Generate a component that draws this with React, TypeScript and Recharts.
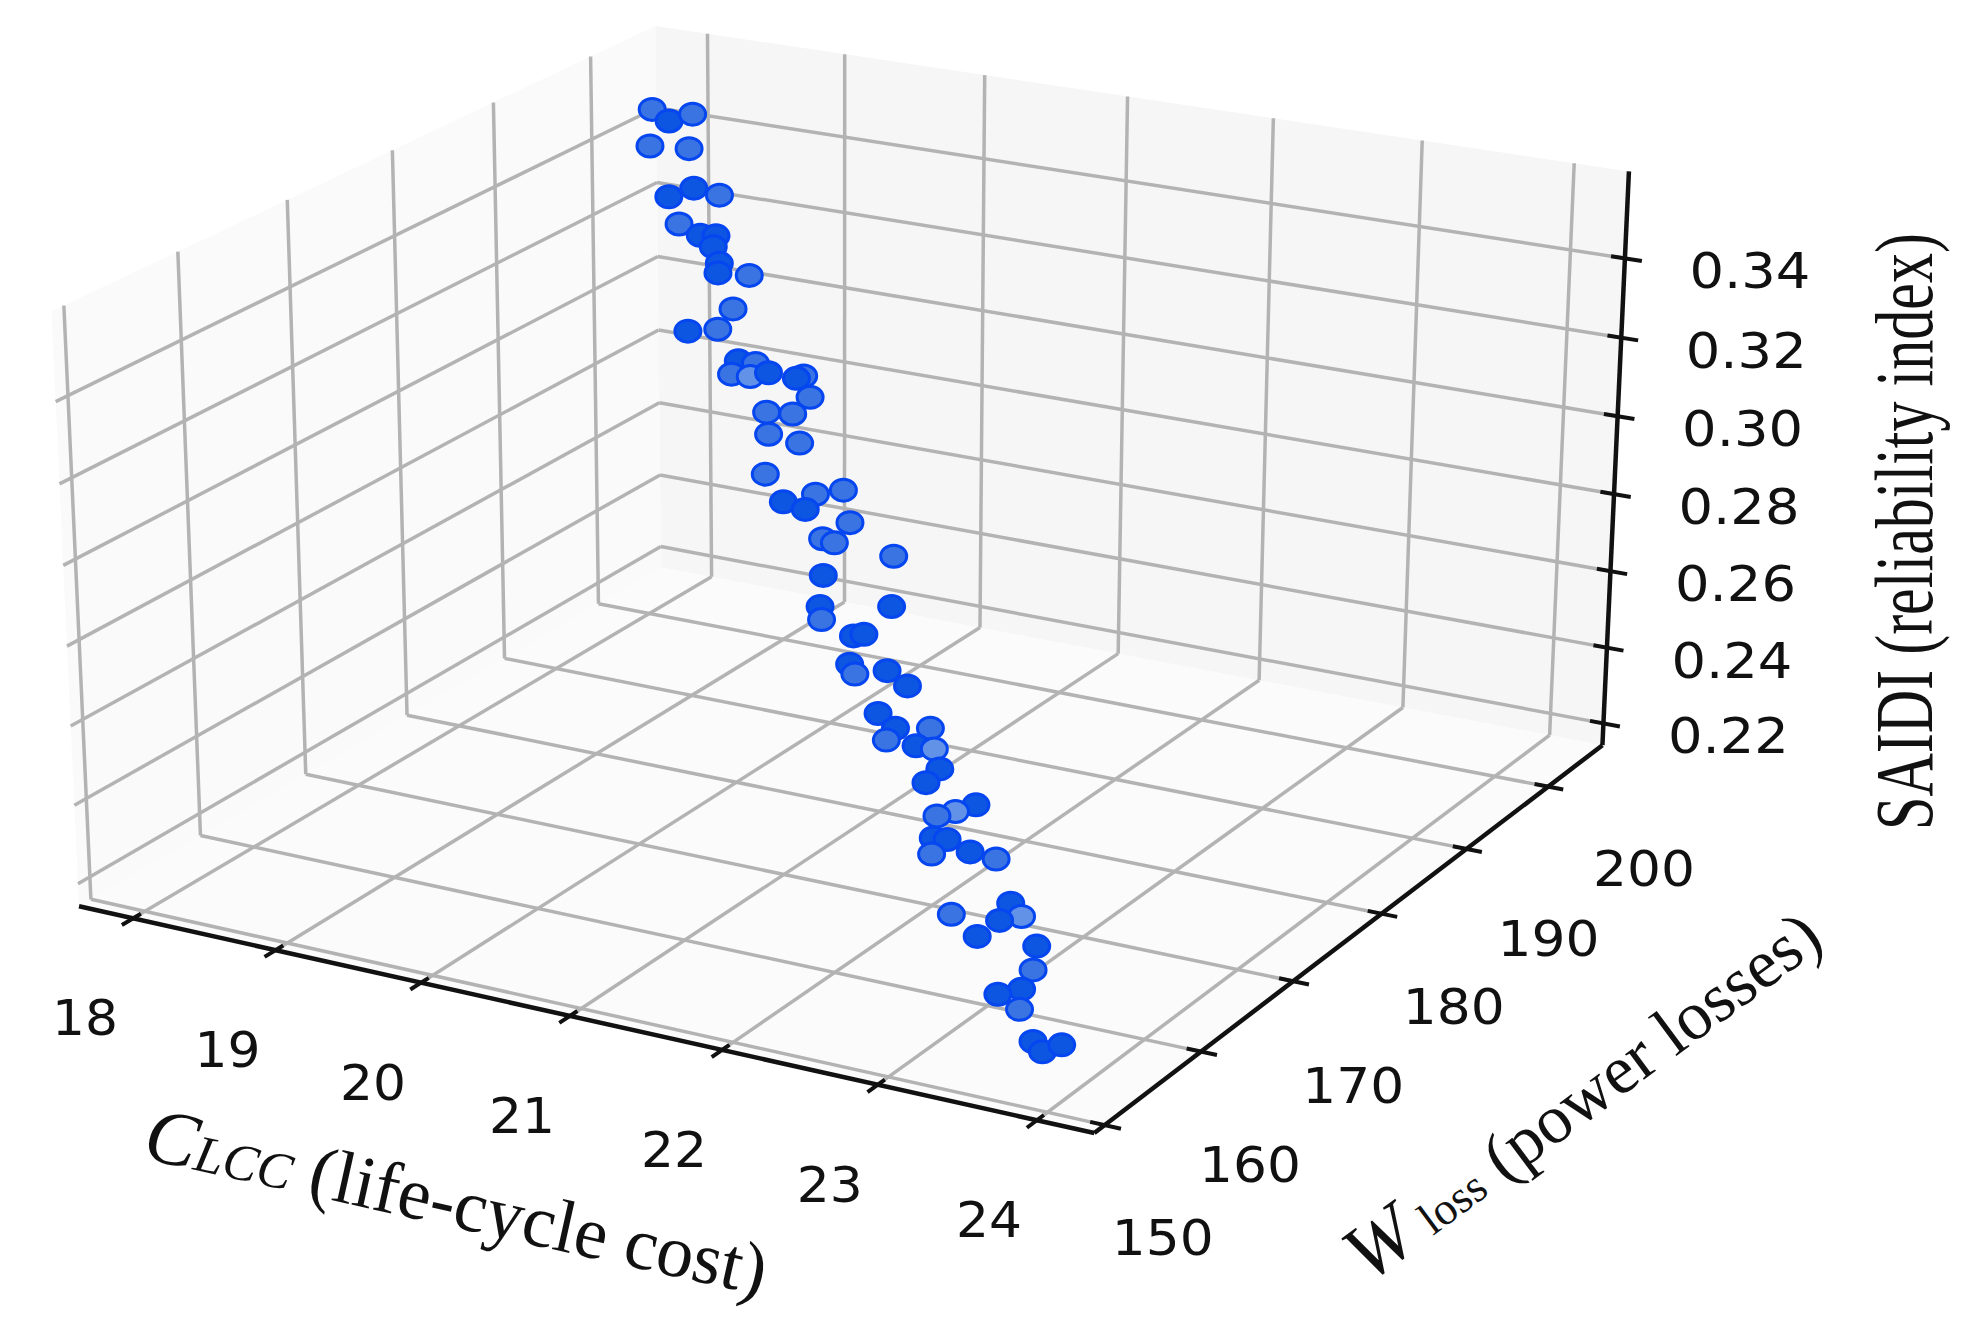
import React from 'react';
import { Scatter, ScatterChart, XAxis, YAxis } from 'recharts';

const W = 1971;
const H = 1335;

const costTicks = [18, 19, 20, 21, 22, 23, 24];
const lossTicks = [150, 160, 170, 180, 190, 200];
const saidiTicks = [0.22, 0.24, 0.26, 0.28, 0.3, 0.32, 0.34];
const costLim = [17.615, 24.355];
const lossLim = [148.94, 206.88];
const saidiLim = [0.2142, 0.3617];

// Pareto points
const cost = [
  18.41, 18.6, 18.7, 18.53, 18.81, 18.8, 18.91, 19.16, 18.94, 19.09, 19.27, 19.25, 19.36, 19.35, 19.57, 19.59, 19.34, 19.55, 19.76, 19.88, 19.78, 19.91,
  19.97, 20.28, 20.23, 20.39, 20.09, 20.27, 20.17, 20.45, 20.28, 20.47, 20.69, 20.62, 20.88, 20.99, 20.87, 20.95, 21.35, 20.94, 21.53, 21.05, 21.06, 21.34, 21.41,
  21.38, 21.48, 21.63, 21.83, 21.7, 21.88, 21.82, 22.11, 22.08, 22.2, 22.3, 22.21, 22.6, 22.53, 22.41, 22.45, 22.54, 22.44, 22.69, 22.92, 23.14, 23.21, 23.07,
  22.76, 22.99, 23.37, 23.41, 23.4, 23.25, 23.45, 23.66, 23.72, 23.84,
];
const loss = [
  195, 194, 195, 193, 193, 191, 192, 191, 190, 190, 189, 189, 188, 188, 188, 186, 185, 185, 184, 184, 183, 183, 184, 183, 183, 182, 182, 182, 181, 180, 179, 178, 178,
  178, 178, 177, 176, 176, 176, 175, 173, 173, 173, 172, 172, 171, 170, 171, 170, 169, 168, 168, 168, 167, 167, 166, 166, 165, 164, 164, 163, 163, 163, 163, 162, 160, 160, 160,
  160, 159, 159, 158, 157, 157, 156, 154, 154, 154,
];
const saidi = [
  0.3583, 0.3576, 0.3587, 0.352, 0.3529, 0.343, 0.3446, 0.3455, 0.3381, 0.3361, 0.3383, 0.3354, 0.3331, 0.3306, 0.3313, 0.3255, 0.3196, 0.3214, 0.316,
  0.3161, 0.3141, 0.3143, 0.3143, 0.3168, 0.3159, 0.3135, 0.3078, 0.3085, 0.3041, 0.3051, 0.2975, 0.2932, 0.2966, 0.2923, 0.2989, 0.2929, 0.2895, 0.289, 0.2884,
  0.2822, 0.2815, 0.2781, 0.2749, 0.2743, 0.2752, 0.269, 0.2688, 0.2692, 0.2684, 0.2621, 0.2613, 0.2579, 0.263, 0.26, 0.2601, 0.2575, 0.2534, 0.2525, 0.2519,
  0.2499, 0.2464, 0.2467, 0.2423, 0.2448, 0.2465, 0.2407, 0.238, 0.2359, 0.2349, 0.233, 0.2337, 0.2299, 0.2268, 0.2243, 0.224, 0.2214, 0.2194, 0.2221,
];

// points that show paler through the depth shading
const paleDots = [0, 2, 3, 4, 7, 8, 14, 15, 17, 19, 20, 23, 25, 26, 27, 28, 29, 30, 32, 34, 35, 36, 37, 38, 42, 46, 51, 52, 59, 62, 64, 68, 71, 74];
const palestDots = [21, 54, 58, 66];

// homogeneous camera of the 3d box, fitted to the grid crossings
const camera = [
  940.54495, 662.26896, -29.2976, 80.314359,
  145.84442, -273.50343, -604.65835, 913.89856,
  -0.072342736, 0.11787605, -0.034966461,
];

const norm = (t: number, a: number, b: number) => (t - a) / (b - a);

const project = (c: number, l: number, s: number) => {
  const u = norm(c, 17.7, 24.45);
  const v = norm(l, 148, 206);
  const w = norm(s, 0.2145, 0.3613);
  const d = camera[8] * u + camera[9] * v + camera[10] * w + 1;
  return {
    x: (camera[0] * u + camera[1] * v + camera[2] * w + camera[3]) / d,
    y: (camera[4] * u + camera[5] * v + camera[6] * w + camera[7]) / d,
  };
};

const [c0, c1] = costLim;
const [l0, l1] = lossLim;
const [s0, s1] = saidiLim;

const GRID = '#b3b3b3';
const INK = '#111111';
const TICK_FONT = 'DejaVu Sans';
const TITLE_FONT = 'Liberation Serif';

const seg = (a: { x: number; y: number }, b: { x: number; y: number }) => [a, b];

const gridSegments = [
  ...costTicks.map((t) => seg(project(t, l0, s0), project(t, l1, s0))),
  ...lossTicks.map((t) => seg(project(c0, t, s0), project(c1, t, s0))),
  ...lossTicks.map((t) => seg(project(c0, t, s0), project(c0, t, s1))),
  ...saidiTicks.map((t) => seg(project(c0, l0, t), project(c0, l1, t))),
  ...costTicks.map((t) => seg(project(t, l1, s0), project(t, l1, s1))),
  ...saidiTicks.map((t) => seg(project(c0, l1, t), project(c1, l1, t))),
];

const axisSegments = [
  seg(project(c0, l0, s0), project(c1, l0, s0)),
  seg(project(c1, l0, s0), project(c1, l1, s0)),
  seg(project(c1, l1, s0), project(c1, l1, s1)),
];

const tickSegments = [
  ...costTicks.map((t) => seg(project(t, l0 - 1, s0), project(t, l0 + 0.7, s0))),
  ...lossTicks.map((t) => seg(project(c1 - 0.09, t, s0), project(c1 + 0.1, t, s0))),
  ...saidiTicks.map((t) => seg(project(c1 - 0.09, l1, t), project(c1 + 0.11, l1, t))),
];

const panes = [
  { fill: '#fbfbfb', corners: [project(c0, l0, s0), project(c1, l0, s0), project(c1, l1, s0), project(c0, l1, s0)] },
  { fill: '#fafafa', corners: [project(c0, l0, s0), project(c0, l1, s0), project(c0, l1, s1), project(c0, l0, s1)] },
  { fill: '#f6f6f6', corners: [project(c0, l1, s0), project(c1, l1, s0), project(c1, l1, s1), project(c0, l1, s1)] },
];

const lossLabelOffsets = [[58, 112], [49, 112], [60, 104], [72, 92], [82, 89], [96, 81]];

const tickLabels = [
  ...costTicks.map((t) => {
    const p = project(t, l0, s0);
    return { x: p.x - 48, y: p.y + 99, text: String(t), length: 66 };
  }),
  ...lossTicks.map((t, i) => {
    const p = project(c1, t, s0);
    return { x: p.x + lossLabelOffsets[i][0], y: p.y + lossLabelOffsets[i][1], text: String(t), length: 102 };
  }),
  ...saidiTicks.map((t) => {
    const p = project(c1, l1, t);
    return { x: p.x + 125, y: p.y + 12, text: t.toFixed(2), length: 121 };
  }),
];

const dots = cost.map((c, i) => ({ ...project(c, loss[i], saidi[i]), index: i }));

const Dot = (props: any) => {
  const i = props.payload.index;
  const fill = palestDots.includes(i) ? '#6292e8' : paleDots.includes(i) ? '#3a74e2' : '#0c56e2';
  return <ellipse cx={props.cx} cy={props.cy} rx={13} ry={11} fill={fill} stroke="#0546f0" strokeWidth={3} />;
};

const Empty = () => <g />;

const TickText = (props: any) => (
  <text
    x={props.cx}
    y={props.cy}
    dy="0.36em"
    textAnchor="middle"
    fontFamily={TICK_FONT}
    fontSize={50}
    fill={INK}
    textLength={props.payload.length}
    lengthAdjust="spacingAndGlyphs"
  >
    {props.payload.text}
  </text>
);

const CostTitle = (props: any) => (
  <text x={props.cx} y={props.cy} transform={`rotate(12.5 ${props.cx} ${props.cy})`} fontFamily={TITLE_FONT} fill={INK}>
    <tspan fontStyle="italic" fontSize={78}>C</tspan>
    <tspan fontStyle="italic" fontSize={52}>LCC</tspan>
    <tspan fontSize={74}> (life-cycle cost)</tspan>
  </text>
);

const LossTitle = (props: any) => (
  <text x={props.cx} y={props.cy} transform={`rotate(-36.5 ${props.cx} ${props.cy})`} fontFamily={TITLE_FONT} fill={INK}>
    <tspan fontStyle="italic" fontSize={80}>W</tspan>
    <tspan fontSize={46} dx={14}>loss</tspan>
    <tspan fontSize={69}> (power losses)</tspan>
  </text>
);

const SaidiTitle = (props: any) => (
  <text
    x={props.cx}
    y={props.cy}
    transform={`rotate(-90 ${props.cx} ${props.cy})`}
    fontFamily={TITLE_FONT}
    fontSize={82}
    fill={INK}
    textLength={597}
    lengthAdjust="spacingAndGlyphs"
  >
    SAIDI (reliability index)
  </text>
);

export default function App() {
  return (
    <div style={{ position: 'absolute', left: 0, top: 0, background: '#fff' }}>
      <ScatterChart width={W} height={H} margin={{ top: 0, right: 0, bottom: 0, left: 0 }}>
        <XAxis type="number" dataKey="x" domain={[0, W]} hide />
        <YAxis type="number" dataKey="y" domain={[0, H]} reversed hide />
        {panes.map((pane, i) => (
          <Scatter
            key={`pane-${i}`}
            data={[pane.corners[0]]}
            isAnimationActive={false}
            shape={() => <polygon points={pane.corners.map((p) => `${p.x},${p.y}`).join(' ')} fill={pane.fill} />}
          />
        ))}
        {gridSegments.map((s, i) => (
          <Scatter key={`grid-${i}`} data={s} line={{ stroke: GRID, strokeWidth: 3.5 }} shape={Empty} isAnimationActive={false} />
        ))}
        {axisSegments.map((s, i) => (
          <Scatter key={`axis-${i}`} data={s} line={{ stroke: INK, strokeWidth: 4.5 }} shape={Empty} isAnimationActive={false} />
        ))}
        {tickSegments.map((s, i) => (
          <Scatter key={`tick-${i}`} data={s} line={{ stroke: INK, strokeWidth: 4 }} shape={Empty} isAnimationActive={false} />
        ))}
        <Scatter data={dots} shape={Dot} isAnimationActive={false} />
        <Scatter data={tickLabels} shape={TickText} isAnimationActive={false} />
        <Scatter data={[{ x: 141, y: 1158 }]} shape={CostTitle} isAnimationActive={false} />
        <Scatter data={[{ x: 1368, y: 1284 }]} shape={LossTitle} isAnimationActive={false} />
        <Scatter data={[{ x: 1932, y: 830 }]} shape={SaidiTitle} isAnimationActive={false} />
      </ScatterChart>
    </div>
  );
}
